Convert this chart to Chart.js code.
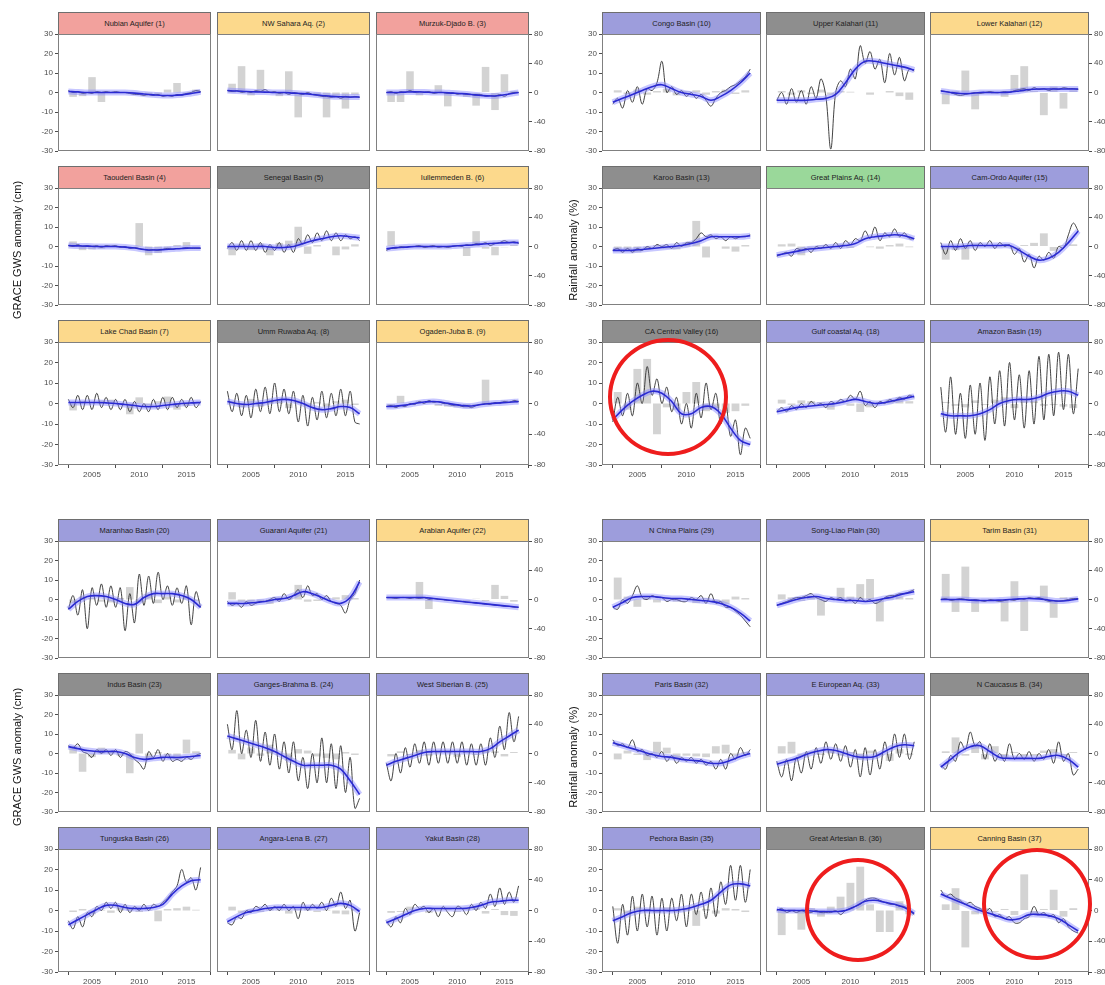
<!DOCTYPE html>
<html>
<head>
<meta charset="utf-8">
<script src="https://cdn.jsdelivr.net/npm/chart.js@4.4.1/dist/chart.umd.min.js"></script>
<style>
  body { margin: 0; background: #fff; width: 1105px; height: 985px; overflow: hidden; position: relative;
         font-family: "Liberation Sans", Arial, sans-serif; }
  canvas { position: absolute; }
  .strip { position: absolute; box-sizing: border-box; border: 1px solid #6e6e6e; font-size: 7.5px; color: #222;
           text-align: center; white-space: nowrap; overflow: hidden; }
  .ytitle { position: absolute; width: 240px; height: 14px; font-size: 11px; color: #111; text-align: center;
            transform: rotate(-90deg); white-space: nowrap; }
  .ring { position: absolute; box-sizing: border-box; border: 4.5px solid #ee1d1d; border-radius: 50%; }
</style>
</head>
<body>
<script>
// time axes
const gwsYears = [2002.5, 2003, 2003.5, 2004, 2004.5, 2005, 2005.5, 2006, 2006.5, 2007, 2007.5, 2008, 2008.5, 2009, 2009.5,
  2010, 2010.5, 2011, 2011.5, 2012, 2012.5, 2013, 2013.5, 2014, 2014.5, 2015, 2015.5, 2016, 2016.5];
const trendYears = [2002.5, 2003.5, 2004.5, 2005.5, 2006.5, 2007.5, 2008.5, 2009.5, 2010.5, 2011.5, 2012.5, 2013.5, 2014.5, 2015.5, 2016.5];
const rainYears = [2003, 2004, 2005, 2006, 2007, 2008, 2009, 2010, 2011, 2012, 2013, 2014, 2015, 2016];
const xTickYears = [2005, 2010, 2015];
const gwsTicks = [-30, 30, 10];
const rainTicks = [-80, 80, 40];

const basinNames = [
  "Nubian Aquifer (1)", "NW Sahara Aq. (2)", "Murzuk-Djado B. (3)",
  "Taoudeni Basin (4)", "Senegal Basin (5)", "Iullemmeden B. (6)",
  "Lake Chad Basin (7)", "Umm Ruwaba Aq. (8)", "Ogaden-Juba B. (9)",
  "Congo Basin (10)", "Upper Kalahari (11)", "Lower Kalahari (12)",
  "Karoo Basin (13)", "Great Plains Aq. (14)", "Cam-Ordo Aquifer (15)",
  "CA Central Valley (16)", "Gulf coastal Aq. (18)", "Amazon Basin (19)",
  "Maranhao Basin (20)", "Guarani Aquifer (21)", "Arabian Aquifer (22)",
  "Indus Basin (23)", "Ganges-Brahma B. (24)", "West Siberian B. (25)",
  "Tunguska Basin (26)", "Angara-Lena B. (27)", "Yakut Basin (28)",
  "N China Plains (29)", "Song-Liao Plain (30)", "Tarim Basin (31)",
  "Paris Basin (32)", "E European Aq. (33)", "N Caucasus B. (34)",
  "Pechora Basin (35)", "Great Artesian B. (36)", "Canning Basin (37)"
];
// strip class per basin: r = red, y = yellow, k = grey, p = purple, g = green
const basinClass = [
  "r", "y", "r", "r", "k", "y", "y", "k", "y",
  "p", "k", "y", "k", "g", "p", "k", "p", "p",
  "p", "p", "y", "k", "p", "p", "p", "p", "p",
  "p", "p", "y", "p", "p", "k", "p", "k", "y"
];

// GRACE GWS anomaly (cm), half-yearly readings; trend (cm), yearly; rainfall anomaly (%), yearly
const gws01 = [1, 0, 0.5, -0.5, 0, -0.5, 0.5, 0, 0.5, 0, 0.5, 0, 0, -0.5, -1, -1, -1.5, -1, -1.5, -1, -2, -1.5, -2, -1, -1.5, -0.5, 0, 1, 0.5];
const trend01 = [0.5, 0.3, 0, 0, 0, 0, 0, -0.3, -0.8, -1.2, -1.5, -1.5, -1.2, -0.5, 0.3];
const rain01 = [-6, -5, 21, -13, 0, 0, 1, -1, -4, -2, 4, 13, -2, 4];

const gws02 = [1, 0.5, 1, 0, 0.5, 0, 1, 0.5, 1.5, 0, 0.5, -0.5, 0, -1, 0, -0.5, -1, 0, -1, -1.5, -2, -2, -2.5, -2, -3, -2, -2.5, -2, -2.5];
const trend02 = [1, 0.8, 0.5, 0.3, 0.2, 0, 0, -0.3, -0.6, -1, -1.5, -2, -2.2, -2.3, -2.3];
const rain02 = [12, 36, -4, 31, 2, -5, 29, -34, 0, -2, -34, -5, -22, -3];

const gws03 = [0, 0.5, -0.5, 0.5, 0, 1, 0, 0.5, 0, 0.5, -0.5, 0, 0, -0.5, 0, -1, -0.5, -1, -1, -1.5, -1, -2, -1.5, -2, -1, -2, -0.5, 0, 0];
const trend03 = [0, 0, 0.2, 0.3, 0.2, 0, 0, -0.3, -0.6, -1, -1.5, -1.8, -1.5, -0.8, 0];
const rain03 = [-13, -13, 29, -4, 2, 10, -19, -2, -6, -18, 35, -24, 25, 2];

const gws04 = [0.5, 0, 1, 0, 0.5, 0, 0.5, -0.5, 0.5, 0, 0.5, -0.5, 0, -1, -0.5, -1, -1.5, -2, -1.5, -2, -1.5, -1, -1.5, -1, -1, -0.5, -1, -1, -1];
const trend04 = [0.5, 0.3, 0.2, 0, 0, 0, -0.3, -0.8, -1.5, -1.8, -1.6, -1.3, -1, -0.8, -0.8];
const rain04 = [7, -5, -4, -3, 2, -2, 0, 32, -12, -9, -4, 2, 6, -1];

const gws05 = [-1, 2, -2, 3, -2, 3, -2, 2, -3, 1, -2, 2, -3, 1, -3, 4, 1, 6, 2, 7, 3, 8, 3, 7, 3, 6, 4, 5, 3];
const trend05 = [0, 0, 0, 0, 0, -0.5, -0.5, 0, 1.5, 3, 4, 5, 5.5, 5, 4.5];
const rain05 = [-12, 3, -5, 4, -12, 5, 8, 27, -10, 2, 0, -12, -4, 3];

const gws06 = [-2, -1, -1, 0, -0.5, 0, 0, 0.5, -0.5, 0, 0.5, -0.5, 0, -0.5, 0, 0.5, 0, 1, 0.5, 1.5, 1, 2, 0.5, 1.5, 2, 3, 2, 2.5, 1.5];
const trend06 = [-1.2, -0.6, -0.3, 0, 0, 0, 0, 0.2, 0.5, 0.8, 1.2, 1.5, 1.8, 2, 2];
const rain06 = [21, -3, 0, 2, -2, 1, 0, 2, -13, 21, -3, -12, -1, 2];

const gws07 = [2, -2, 4, -3, 4, -3, 5, -2, 3, -3, 2, -3, 2, -4, 1, -4, 0, -4, 2, -3, 3, -3, 3, -2, 2, -2, 3, -2, 1];
const trend07 = [0.5, 0.5, 0.5, 0.5, 0.3, 0, -0.5, -1, -1.5, -1.5, -1, -0.5, 0, 0.3, 0.5];
const rain07 = [-9, 3, 0, 4, 5, -2, -14, 8, -3, 3, 9, -8, -3, 2];

const gws08 = [6, -4, 5, -6, 4, -7, 7, -4, 8, -5, 10, -4, 7, -5, 6, -9, 4, -11, 3, -8, 6, -7, 5, -6, 7, -6, 6, -9, -10];
const trend08 = [1, 0, -0.5, 0, 0.5, 1.5, 2, 1.5, 0, -2, -3, -2.5, -1.5, -2, -5];
const rain08 = [3, -5, 6, -4, 5, 3, -6, 4, -3, 2, -4, 3, 5, -2];

const gws09 = [-1.5, -1, -2, -1, -1.5, 0, -0.5, 1, 0, 1.5, 0.5, 1, 0, 0, -1, -0.5, -1.5, -1, -2, -1, -0.5, 0, -0.5, 0.5, 0, 1, 0.5, 1.5, 1];
const trend09 = [-1.5, -1.3, -0.8, 0, 0.7, 1, 0.5, -0.3, -1, -1.2, -0.5, 0, 0.3, 0.6, 1];
const rain09 = [-3, 10, -2, 3, 2, -3, -4, -5, -6, -2, 31, 2, 4, 2];

const gws10 = [-6, -3, -8, 1, -5, 3, -6, 2, 1, 5, 16, 0, 3, -1, 1, -2, 0, -3, -1, -4, -7, -3, 0, 1, 3, 4, 6, 8, 12];
const trend10 = [-5, -3, -1, 1, 3, 4, 2, 0, -1, -2, -4, -2, 1, 5, 10];
const rain10 = [3, -2, 4, -3, 2, 5, -4, 2, 3, -3, 2, 4, -2, 3];

const gws11 = [-4, 0, -6, 2, -5, 1, -6, 3, -3, 7, -2, -29, 0, 6, 3, 12, 7, 24, 15, 21, 12, 17, 5, 20, 9, 18, 6, 12, 11];
const trend11 = [-4, -4, -4, -4, -3.5, -3, -1, 5, 12, 16, 16, 15, 14, 13, 11.5];
const rain11 = [2, -3, 3, -2, 4, -3, 2, 1, 0, -3, 0, 2, -5, -10];

const gws12 = [1, 0.5, 0, -1, -1.5, -1, -0.5, 0, -0.5, 0, 0.5, 0, 0, 0.5, 0, 1, 1.5, 2, 1, 2.5, 1.5, 2, 1, 2, 1.5, 2.5, 2, 2, 1.5];
const trend12 = [0.8, 0, -0.5, -0.5, 0, 0, 0, 0.2, 0.8, 1.5, 1.8, 1.8, 1.8, 1.8, 1.8];
const rain12 = [-16, 2, 30, -23, 0, -2, -6, 24, 36, 2, -31, 8, -22, 3];

const gws13 = [-2, -1, -3, -1, -3, -1, -2, 0, -1, 1, 0, 1, -1, 2, 0, 2, 2, 4, 7, 5, 6, 4, 5, 3, 5, 4, 5, 5, 6];
const trend13 = [-2, -2, -2, -1.5, -1, -0.5, 0, 0.5, 1.5, 3, 5, 5, 5, 5, 5.5];
const rain13 = [-4, -5, -8, -4, 2, -3, -4, 5, 35, -15, 0, -3, -7, 2];

const gws14 = [-5, -4, -3, -5, -1, -2, -1, -3, 0, -1, 1, -1, 2, -1, 3, 1, 4, 3, 8, 4, 10, 3, 7, 5, 9, 5, 7, 4, 4];
const trend14 = [-4.5, -3.5, -2.5, -1.5, -1, -0.5, 0, 0.5, 1.5, 4, 5, 5.5, 6, 5.5, 4];
const rain14 = [3, 4, -12, -3, 2, 1, 3, -2, 0, -1, -3, 2, 4, -1];

const gws15 = [2, -4, 3, -2, 4, -1, 3, -2, 2, 0, 3, -1, 2, 0, 1, -4, -1, -8, -4, -11, -5, -7, -3, -6, 0, -1, 6, 12, 8];
const trend15 = [0, 0, 0, 0.5, 0.5, 0.5, 0.5, 0.5, -2, -5, -7, -6, -3, 2, 8];
const rain15 = [-18, -5, -18, 4, 2, 0, 3, -3, 2, 5, 18, -6, 2, 3];

const gws16 = [-9, 3, -6, 5, -6, 10, 0, 18, 4, 12, 0, 8, -4, 3, -10, 0, -12, 5, -7, 10, -3, 5, -10, 0, -16, -8, -25, -12, -17];
const trend16 = [-8, -3, 1, 4, 6, 5, 1, -5, -5, -2, -1.5, -5, -12, -18, -20];
const rain16 = [15, -8, 45, 58, -40, -5, -8, 15, 28, -10, -6, -12, -10, -3];

const gws18 = [-4, -2, -4, -1, -3, 0, -2, 1, -1, 0, -2, 1, 0, 2, 1, 4, 2, 6, -1, 1, -2, 1, 0, 2, 1, 3, 2, 4, 3];
const trend18 = [-4, -3, -2, -1.5, -1, -0.5, 0, 1, 2, 1, 0, 0.5, 1.5, 2.5, 3.5];
const rain18 = [5, -2, 4, 3, 2, -8, 3, -3, -11, -5, 2, 5, 8, 3];

const gws19 = [8, -14, 13, -15, 5, -17, 9, -15, 10, -18, 13, -10, 16, -11, 20, -8, 14, -12, 16, -10, 23, -8, 24, -6, 25, -3, 24, -5, 17];
const trend19 = [-5, -6, -6, -6, -5, -3, 0, 1.5, 2, 2, 3, 5, 6, 6, 4];
const rain19 = [2, -3, -5, 4, -2, 5, 8, -6, 4, 3, -3, -2, -4, -6];

const gws20 = [-5, 2, -8, 5, -15, 6, -3, 8, -4, 7, -4, 6, -16, 3, -12, 13, -3, 12, -2, 14, 0, 7, -3, 6, -2, 7, -13, 4, -4];
const trend20 = [-5, -1, 1.5, 2, 1.5, 0, -2, -2.5, 1, 3, 3, 3, 2, 0, -4];
const rain20 = [-5, 4, 2, -3, -4, 2, 17, -4, 8, -5, 4, -4, 3, -2];

const gws21 = [-1, -3, -2, -4, -1, -3, -2, -1, -1, 0, 1, -1, 3, 0, 2, 5, 1, 7, 2, 3, 0, 2, -1, -2, -3, -7, 0, 3, 10];
const trend21 = [-2, -2, -2, -1.5, -1, 0, 0.5, 2, 4, 3, 1, -1, -2, 1, 9];
const rain21 = [10, -3, -5, -4, -6, 3, 2, 20, -3, -2, 2, 3, 6, 2];

const gws22 = [1, 1, 0.5, 1, 1, 0.5, 1, 0.5, 1, 0, 0.5, 0, 0, -0.5, -0.5, -1, -1, -1.5, -1.5, -2, -2, -2.5, -2.5, -3, -3, -3.5, -3.5, -4, -4];
const trend22 = [1, 1, 1, 1, 1, 0.5, 0, -0.5, -1, -1.5, -2, -2.5, -3, -3.5, -4];
const rain22 = [3, 0, 0, 24, -13, 0, -2, -1, -3, 1, -2, 20, 5, -3];

const gws23 = [4, 3, 5, 1, 0, -2, 2, 0, 2, -1, 2, -2, 1, 0, -3, -5, -8, 1, -2, 2, -4, 0, -4, -3, -4, -2, -3, -1, 0];
const trend23 = [3.5, 2.5, 1.5, 1, 1, 1, 0, -2, -3, -2.5, -2, -2, -2, -1.5, -1];
const rain23 = [10, -25, -5, 8, 4, -3, -27, 27, -6, 2, -3, -8, 19, 3];

const gws24 = [15, 2, 22, 0, 12, -2, 17, -4, 11, -6, 10, -8, 6, -10, 6, -14, -2, -18, 0, -15, 8, -15, 5, -18, 4, -20, -2, -28, -23];
const trend24 = [9, 7.5, 6, 4.5, 3, 1, -1.5, -4, -6, -6, -6, -6, -8, -14, -21];
const rain24 = [5, -8, 8, -3, 12, -2, -10, 6, 4, -4, -6, -8, 2, -2];

const gws25 = [-5, -14, 0, -10, 3, -7, 5, -5, 6, -6, 6, -5, 6, -5, 6, -5, 6, -6, 5, -6, 5, -6, 8, -2, 14, 2, 21, 6, 19];
const trend25 = [-6, -4, -2.5, -1, 0.5, 1, 1, 1, 1, 1, 1, 2.5, 6, 9, 12];
const rain25 = [-4, 3, -2, 5, -3, 2, 4, -5, 3, -2, 5, 3, -4, 2];

const gws26 = [-5, -9, -3, -8, -1, -3, 2, 0, 4, 1, 4, -1, 3, -1, 2, 0, 3, 0, 3, 2, 4, 6, 9, 12, 20, 14, 16, 10, 21];
const trend26 = [-7, -4.5, -2, 0.5, 2.5, 2.5, 1.5, 1, 1, 1.5, 3, 8, 12, 14.5, 15];
const rain26 = [-2, 2, -5, 1, -3, 4, 3, -2, 1, -14, 2, 3, 5, 1];

const gws27 = [-6, -7, -3, -4, 0, -1, 2, 1, 3, 0, 2, 0, 3, 0, 2, -4, 4, 0, 3, 1, 4, 0, 6, 2, 9, 1, 5, -10, -1];
const trend27 = [-5.5, -3, -1, 0, 1, 1.5, 1.5, 1.5, 1.5, 1.5, 1.5, 2.5, 3.5, 2.5, -0.5];
const rain27 = [5, -3, 2, -2, 3, 1, -4, 2, 3, -2, 1, -4, -5, 2];

const gws28 = [-5, -8, -3, -6, 1, -2, 3, 1, 2, -1, 1, -3, 2, -1, -3, 2, 1, -2, 3, 0, 4, 1, 8, 2, 11, 3, 9, 4, 12];
const trend28 = [-6, -4, -2, 0, 1, 1, 1, 1, 1, 1.5, 2.5, 4, 4.5, 5, 5];
const rain28 = [-3, -2, 5, 2, -3, 1, 3, -2, 2, 3, -4, 2, -6, -7];

const gws29 = [-4, -5, 0, -2, 2, 7, 1, 0, 2, 1, 1, -1, 0, 0, -1, -1, 1, 0, 2, -2, 3, -2, -1, -4, -4, -6, -8, -11, -14];
const trend29 = [-4, -1.5, 1, 1.5, 1.5, 1, 0.5, 0.5, 0, -0.5, -1, -2, -4, -7, -11];
const rain29 = [30, 4, -10, 3, -4, 2, -3, 1, -5, 2, -4, -6, 4, 2];

const gws30 = [-3, -2, -1, 0, 1, 1, 2, 3, 1, 0, -1, 1, 0, 1, -1, 0, -2, 1, -1, 0, -2, -1, 1, 2, 2, 3, 3, 4, 5];
const trend30 = [-3, -1.5, 0, 1, 1.5, 0.5, 0, -0.5, -0.5, -1, -0.5, 0.5, 1.5, 3, 4];
const rain30 = [7, 3, -2, 5, -22, 2, 16, 4, 21, 28, -30, 3, 4, 2];

const gws31 = [0, 0.5, -0.5, 0, 0.5, 0, -0.5, 0, -0.5, -1, 0, -0.5, -1, -0.5, 0, -0.5, 0.5, 0, 1, 0.5, 1, 0, -1, -0.5, -1, -0.5, 0, 0.5, 0.5];
const trend31 = [0, 0, 0, -0.3, -0.5, -0.5, -0.3, 0, 0.3, 0.5, 0.3, -0.3, -0.8, -0.5, 0.3];
const rain31 = [35, -17, 45, -17, 1, -2, -30, 25, -43, 2, 19, -25, 3, 2];

const gws32 = [7, 4, 5, 3, 7, 1, 2, -1, 0, -2, 1, -4, -1, -5, -2, -4, -2, -5, -3, -6, -4, -8, -3, -8, 0, -3, 3, -1, 2];
const trend32 = [5.5, 4, 2.5, 1, -0.5, -1.5, -2, -3, -3.5, -4, -5, -5, -3.5, -1.5, 0];
const rain32 = [-8, 4, -2, -9, 16, 8, -6, -3, -4, -5, 10, 12, -3, 2];

const gws33 = [-4, -12, -3, -14, -2, -10, 1, -8, 3, -5, 6, -3, 5, -4, 4, -7, 2, -12, 3, -11, 2, -8, 6, -4, 10, -2, 10, -3, 6];
const trend33 = [-5.5, -4, -2.5, -0.5, 1, 2, 1.5, 0, -1.5, -2, -1.5, 1, 3.5, 4.5, 4];
const rain33 = [10, 16, -4, 3, -2, 5, -3, 2, -8, 4, -3, -10, 6, -2];

const gws34 = [-6, -8, -1, -4, 6, 2, 11, 4, 6, -3, 5, -4, 0, -4, 5, -3, 0, -3, 1, -4, 0, -3, 2, -5, 6, -4, 0, -11, -8];
const trend34 = [-7, -3, 1, 3.5, 4, 1, -2, -2.5, -2.5, -2.5, -2.5, -1.5, -1, -3, -7];
const rain34 = [3, 22, -3, 12, -8, 10, -7, 2, -4, -3, 4, 6, -3, 2];

const gws35 = [2, -16, 3, -12, 7, -10, 8, -8, 7, -12, 6, -10, 6, -5, 8, -8, 8, -2, 9, -4, 11, -3, 14, 3, 22, 5, 22, 4, 20];
const trend35 = [-5, -3, -1, 0, 0, 0, 0, 0.5, 1.5, 3, 5, 9, 12.5, 13, 12];
const rain35 = [3, -4, 5, 2, -3, 4, -2, 3, -20, 2, -4, 3, 2, -2];

const gws36 = [0, 1, -1, 0, -1, 0, -1, -1, 0, -1, -1, -1, 0, -2, 0, 1, 2, 3, 5, 6, 6, 5, 4, 3, 3, 2, 2, 0, -2];
const trend36 = [0.5, 0, 0, 0, -0.5, -0.5, -0.5, 0, 2, 4.5, 5, 4, 3, 1.5, -1.5];
const rain36 = [-32, 2, -25, 3, -8, 5, 18, 36, 57, 8, -28, -28, 12, -5];

const gws37 = [10, 7, 8, 6, 5, 3, 4, 2, 1, -1, 1, -3, -2, -4, -3, -6, -6, -4, -3, 2, -2, -1, -3, -2, -6, -4, -8, -10, -11];
const trend37 = [8, 6, 4, 2, 0, -1.5, -3, -4.5, -4, -2, -2, -2.5, -4, -7, -10];
const rain37 = [8, 29, -48, -5, 3, -2, 2, -6, 47, -5, 2, 27, -8, 3];

const panelSeries = [
  [gws01, trend01, rain01], [gws02, trend02, rain02], [gws03, trend03, rain03],
  [gws04, trend04, rain04], [gws05, trend05, rain05], [gws06, trend06, rain06],
  [gws07, trend07, rain07], [gws08, trend08, rain08], [gws09, trend09, rain09],
  [gws10, trend10, rain10], [gws11, trend11, rain11], [gws12, trend12, rain12],
  [gws13, trend13, rain13], [gws14, trend14, rain14], [gws15, trend15, rain15],
  [gws16, trend16, rain16], [gws18, trend18, rain18], [gws19, trend19, rain19],
  [gws20, trend20, rain20], [gws21, trend21, rain21], [gws22, trend22, rain22],
  [gws23, trend23, rain23], [gws24, trend24, rain24], [gws25, trend25, rain25],
  [gws26, trend26, rain26], [gws27, trend27, rain27], [gws28, trend28, rain28],
  [gws29, trend29, rain29], [gws30, trend30, rain30], [gws31, trend31, rain31],
  [gws32, trend32, rain32], [gws33, trend33, rain33], [gws34, trend34, rain34],
  [gws35, trend35, rain35], [gws36, trend36, rain36], [gws37, trend37, rain37]
];

// ---- layout / style ----
const stripFill = { r: "#f2a19d", y: "#fcd98c", k: "#8e8e8e", p: "#9d9ddc", g: "#9ad89a" };
const quadCols = [[58, 217, 376], [602, 766, 930]];
const quadWidth = [153, 159];
const quadRows = [[34, 188, 342], [541, 695, 849]];
const plotH = 123;
const stripH = 22;
const xMin = 2001.4, xMax = 2017.6;

Chart.defaults.font.family = '"Liberation Sans", Arial, sans-serif';
Chart.defaults.font.size = 8;
Chart.defaults.color = "#4d4d4d";

const framePlugin = {
  id: "frame",
  afterDraw(chart) {
    const { ctx, chartArea: a } = chart;
    ctx.save();
    ctx.strokeStyle = "#808080";
    ctx.lineWidth = 1;
    ctx.strokeRect(a.left + 0.5, a.top + 0.5, a.right - a.left - 1, a.bottom - a.top - 1);
    ctx.restore();
  }
};

const tickGrid = { display: true, drawOnChartArea: false, drawTicks: true, tickLength: 3, color: "#4d4d4d" };

function pts(xs, ys) {
  return ys.map((v, k) => ({ x: xs[k], y: v }));
}

function addDiv(cls, css, text) {
  const el = document.createElement("div");
  el.className = cls;
  Object.assign(el.style, css);
  if (text) el.textContent = text;
  document.body.appendChild(el);
  return el;
}

function makePanel(i) {
  const q = Math.floor(i / 9), r = Math.floor((i % 9) / 3), c = i % 3;
  const left = quadCols[q % 2][c];
  const w = quadWidth[q % 2];
  const top = quadRows[Math.floor(q / 2)][r];
  const [gws, trend, rain] = panelSeries[i];

  addDiv("strip", {
    left: left + "px", top: (top - stripH) + "px", width: w + "px", height: (stripH + 1) + "px",
    lineHeight: (stripH - 1) + "px", background: stripFill[basinClass[i]]
  }, basinNames[i]);

  const padT = 6;
  const padL = c === 0 ? 34 : 0;
  const padR = c === 2 ? 32 : 0;
  const padB = r === 2 ? 20 : 6;
  const canvas = document.createElement("canvas");
  canvas.width = padL + w + padR;
  canvas.height = padT + plotH + padB;
  canvas.style.left = (left - padL) + "px";
  canvas.style.top = (top - padT) + "px";
  document.body.appendChild(canvas);

  new Chart(canvas, {
    type: "line",
    data: {
      datasets: [
        { type: "bar", data: pts(rainYears, rain), yAxisID: "y2", backgroundColor: "rgba(200,200,200,0.8)",
          barPercentage: 0.8, categoryPercentage: 1, order: 3 },
        { data: pts(gwsYears, gws), yAxisID: "y", borderColor: "#2e2e2e", borderWidth: 0.9,
          pointRadius: 0, tension: 0.35, order: 2 },
        { data: pts(trendYears, trend), yAxisID: "y", borderColor: "rgba(130,130,255,0.45)", borderWidth: 6,
          pointRadius: 0, tension: 0.4, order: 1 },
        { data: pts(trendYears, trend), yAxisID: "y", borderColor: "#2a2ad2", borderWidth: 1.6,
          pointRadius: 0, tension: 0.4, order: 0 }
      ]
    },
    options: {
      responsive: false,
      animation: false,
      events: [],
      layout: { padding: { top: padT, bottom: r === 2 ? 0 : padB, left: 0, right: 0 } },
      plugins: { legend: { display: false }, tooltip: { enabled: false } },
      scales: {
        x: {
          type: "linear", min: xMin, max: xMax, offset: false, display: r === 2,
          afterBuildTicks: (s) => { s.ticks = xTickYears.map((v) => ({ value: v })); },
          afterFit: (s) => { s.height = padB; s.paddingLeft = 0; s.paddingRight = 0; },
          grid: tickGrid, border: { display: false },
          ticks: { autoSkip: false, maxRotation: 0, padding: 2, callback: (v) => String(v) }
        },
        y: {
          position: "left", min: gwsTicks[0], max: gwsTicks[1], display: c === 0,
          afterFit: (s) => { s.width = padL; s.paddingTop = 0; s.paddingBottom = 0; },
          grid: tickGrid, border: { display: false },
          ticks: { stepSize: gwsTicks[2], padding: 2 }
        },
        y2: {
          position: "right", min: rainTicks[0], max: rainTicks[1], display: c === 2,
          afterFit: (s) => { s.width = padR; s.paddingTop = 0; s.paddingBottom = 0; },
          grid: tickGrid, border: { display: false },
          ticks: { stepSize: rainTicks[2], padding: 2 }
        }
      }
    },
    plugins: [framePlugin]
  });
}

for (let i = 0; i < panelSeries.length; i++) makePanel(i);

// axis titles
[250, 757].forEach((cy) => {
  addDiv("ytitle", { left: (18 - 120) + "px", top: (cy - 7) + "px" }, "GRACE GWS anomaly (cm)");
  addDiv("ytitle", { left: (574 - 120) + "px", top: (cy - 7) + "px" }, "Rainfall anomaly (%)");
});

// highlight rings
[[668, 397, 120, 118], [858, 910, 106, 104], [1037, 904, 110, 112]].forEach(([cx, cy, w, h]) => {
  addDiv("ring", { left: (cx - w / 2) + "px", top: (cy - h / 2) + "px", width: w + "px", height: h + "px" });
});
</script>
</body>
</html>
